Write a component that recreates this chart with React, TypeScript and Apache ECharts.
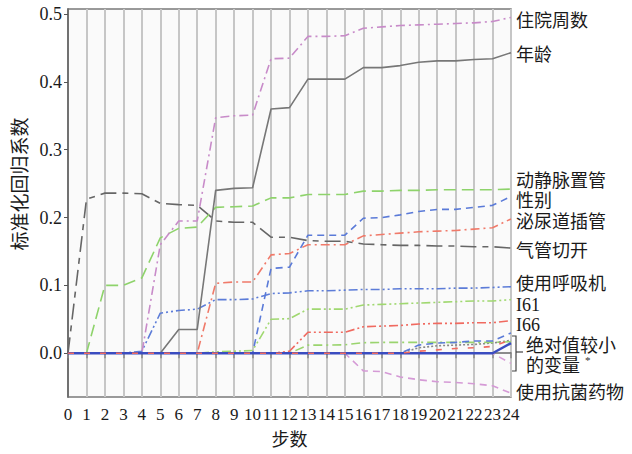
import React, { useEffect, useRef } from "react";
import * as echarts from "echarts";

// ---- data ----
const steps = [0, 1, 2, 3, 4, 5, 6, 7, 8, 9, 10, 11, 12, 13, 14, 15, 16, 17, 18, 19, 20, 21, 22, 23, 24];
const yTicks = [0, 0.1, 0.2, 0.3, 0.4, 0.5];

const hospWeeks = [0, 0, 0, 0, 0, 0.16, 0.195, 0.195, 0.347, 0.35, 0.351, 0.434, 0.435, 0.467, 0.467, 0.468, 0.479, 0.481, 0.483, 0.484, 0.485, 0.486, 0.487, 0.489, 0.495];
const age = [0, 0, 0, 0, 0, 0, 0.035, 0.035, 0.24, 0.243, 0.244, 0.36, 0.362, 0.404, 0.404, 0.404, 0.421, 0.421, 0.424, 0.429, 0.431, 0.431, 0.433, 0.434, 0.443];
const avCath = [0, 0, 0.1, 0.1, 0.111, 0.17, 0.184, 0.186, 0.215, 0.216, 0.217, 0.229, 0.229, 0.234, 0.234, 0.234, 0.239, 0.239, 0.24, 0.24, 0.241, 0.241, 0.241, 0.241, 0.242];
const trach = [0, 0.227, 0.236, 0.236, 0.235, 0.221, 0.219, 0.218, 0.195, 0.193, 0.193, 0.171, 0.171, 0.166, 0.165, 0.165, 0.161, 0.16, 0.159, 0.159, 0.158, 0.158, 0.157, 0.157, 0.155];
const sex = [0, 0, 0, 0, 0, 0, 0, 0, 0, 0, 0, 0.125, 0.127, 0.174, 0.174, 0.174, 0.199, 0.2, 0.204, 0.209, 0.212, 0.212, 0.215, 0.218, 0.231];
const urinCath = [0, 0, 0, 0, 0, 0, 0, 0, 0.103, 0.105, 0.105, 0.145, 0.147, 0.16, 0.16, 0.16, 0.173, 0.175, 0.177, 0.179, 0.18, 0.181, 0.183, 0.185, 0.198];
const ventilator = [0, 0, 0, 0, 0.003, 0.059, 0.063, 0.065, 0.079, 0.079, 0.08, 0.088, 0.089, 0.092, 0.092, 0.093, 0.094, 0.094, 0.095, 0.095, 0.095, 0.096, 0.096, 0.097, 0.098];
const i61 = [0, 0, 0, 0, 0, 0, 0, 0, 0.002, 0.003, 0.004, 0.05, 0.051, 0.065, 0.065, 0.065, 0.071, 0.072, 0.073, 0.074, 0.075, 0.076, 0.077, 0.077, 0.079];
const i66 = [0, 0, 0, 0, 0, 0, 0, 0, 0, 0, 0, 0, 0.003, 0.031, 0.031, 0.031, 0.039, 0.04, 0.041, 0.043, 0.044, 0.044, 0.045, 0.045, 0.048];
const antibiotics = [0, 0, 0, 0, 0, 0, 0, 0, 0, 0, 0, 0, 0, 0, 0, 0, -0.026, -0.027, -0.035, -0.039, -0.042, -0.043, -0.045, -0.048, -0.059];
const smallA = [0, 0, 0, 0, 0, 0, 0, 0, 0, 0, 0, 0, 0, 0.012, 0.012, 0.0125, 0.0155, 0.016, 0.016, 0.016, 0.016, 0.016, 0.016, 0.016, 0.017];
const smallB = [0, 0, 0, 0, 0, 0, 0, 0, 0, 0, 0, 0, 0, 0, 0, 0, 0, 0, 0, 0.012, 0.015, 0.016, 0.018, 0.018, 0.03];
const smallC = [0, 0, 0, 0, 0, 0, 0, 0, 0, 0, 0, 0, 0, 0, 0, 0, 0, 0, 0, 0.008, 0.011, 0.012, 0.013, 0.015, 0.019];
const smallD = [0, 0, 0, 0, 0, 0, 0, 0, 0, 0, 0, 0, 0, 0, 0, 0, 0, 0, 0, 0, 0, 0, 0, 0, 0.015];
const smallE = [0, 0, 0, 0, 0, 0, 0, 0, 0, 0, 0, 0, 0, 0, 0, 0, 0, 0, 0, 0.003, 0.005, 0.007, 0.008, 0.01, 0.02];
const smallF = [0, 0, 0, 0, 0, 0, 0, 0, 0, 0, 0, 0, 0, 0, 0, 0, 0, 0, 0, 0, 0, 0, 0, 0, -0.015];

const rightLabels = [
  "住院周数", "年龄", "动静脉置管", "性别", "泌尿道插管", "气管切开",
  "使用呼吸机", "I61", "I66", "绝对值较小", "的变量", "使用抗菌药物",
];

const SERIF = "'Liberation Serif', 'Noto Sans CJK SC', serif";
const CJK = "'Liberation Serif', 'Noto Sans CJK SC', sans-serif";

const dashDot = [9, 4, 2, 4];
const dashDotDot = [9, 3, 2, 3, 2, 3];
const longDash = [12, 6];
const dash = [7, 5];
const trachDash = [16, 6, 6, 6];

function mk(name: string, vals: number[], color: string, type: any, width = 1.6) {
  return {
    name,
    type: "line",
    data: steps.map((s, i) => [s, vals[i]]),
    symbol: "none",
    silent: true,
    lineStyle: { color, width, type },
  };
}

export default function App() {
  const ref = useRef<HTMLDivElement>(null);
  useEffect(() => {
    const chart = echarts.init(ref.current!, null, { renderer: "svg" });
    const labelY = [20.5, 55, 181, 201, 222, 250.5, 283.5, 305, 325, 345.5, 365.5, 392.5];
    const labelX = [516, 516, 516, 516, 516, 516, 516, 516, 516, 526, 526, 516];
    const graphic: any[] = rightLabels.map((t, i) => ({
      type: "text",
      x: labelX[i],
      y: labelY[i],
      silent: true,
      style: {
        text: t,
        font: `18px ${CJK}`,
        fill: "#1a1a1a",
        verticalAlign: "middle",
        align: "left",
      },
    }));
    graphic.push({
      type: "text",
      x: 585,
      y: 360,
      style: { text: "*", font: `11px ${SERIF}`, fill: "#333", verticalAlign: "middle" },
    });
    graphic.push({
      type: "polyline",
      shape: { points: [[511, 336], [516, 336], [516, 371], [511, 371]] },
      style: { stroke: "#444", lineWidth: 1.2, fill: "none" },
    });
    graphic.push({
      type: "line",
      shape: { x1: 516, y1: 352, x2: 523, y2: 352 },
      style: { stroke: "#444", lineWidth: 1.2 },
    });
    graphic.push({
      type: "text",
      x: 20,
      y: 184,
      rotation: Math.PI / 2,
      style: {
        text: "标准化回归系数",
        font: `19px ${CJK}`,
        fill: "#1a1a1a",
        align: "center",
        verticalAlign: "middle",
      },
    });

    const option: any = {
      animation: false,
      backgroundColor: "#ffffff",
      grid: {
        left: 68,
        right: 121,
        top: 9,
        bottom: 57,
        show: true,
        backgroundColor: "#fafafa",
        borderColor: "#7a7a7a",
        borderWidth: 1.5,
      },
      xAxis: {
        type: "value",
        min: 0,
        max: 24,
        interval: 1,
        name: "步数",
        nameLocation: "middle",
        nameGap: 34,
        nameTextStyle: { fontFamily: CJK, fontSize: 18, color: "#1a1a1a" },
        axisLine: { show: true, lineStyle: { color: "#666", width: 1.5 } },
        axisTick: { show: true, length: 5, lineStyle: { color: "#888", width: 1.5 } },
        axisLabel: { fontFamily: SERIF, fontSize: 17, color: "#1a1a1a", margin: 9 },
        splitLine: { show: true, lineStyle: { color: "#c6c6c6", width: 2 } },
      },
      yAxis: {
        type: "value",
        min: -0.0645,
        max: 0.5074,
        axisLine: { show: true, onZero: false, lineStyle: { color: "#555", width: 1.5 } },
        axisTick: { show: true, length: 4, customValues: yTicks, lineStyle: { color: "#555" } },
        axisLabel: {
          customValues: yTicks,
          fontFamily: SERIF,
          fontSize: 18,
          color: "#1a1a1a",
          margin: 6,
          formatter: (v: number) => v.toFixed(1),
        },
        splitLine: { show: false },
      },
      graphic,
      series: [
        mk("smallF", smallF, "#d9a0d9", dash),
        mk("smallC", smallC, "#888888", [2, 2]),
        mk("smallA", smallA, "#9ad46e", dashDot),
        mk("smallB", smallB, "#5a7ad8", dash),
        mk("使用抗菌药物", antibiotics, "#d59ad6", dash),
        mk("I66", i66, "#f06a60", dashDotDot),
        mk("I61", i61, "#a0d870", dashDotDot),
        mk("使用呼吸机", ventilator, "#5c7cd8", dashDotDot),
        mk("泌尿道插管", urinCath, "#f07a6a", dashDot),
        mk("性别", sex, "#5a7ad8", dash),
        mk("气管切开", trach, "#666666", trachDash),
        mk("动静脉置管", avCath, "#8ed36b", longDash),
        mk("年龄", age, "#777777", "solid"),
        mk("住院周数", hospWeeks, "#c88bc9", dashDot),
        mk("smallD", smallD, "#3a4cc0", "solid", 2.5),
        mk("smallE", smallE, "#f06a60", [6, 10], 1.6),
      ],
    };
    chart.setOption(option);
    return () => chart.dispose();
  }, []);
  return (
    <div
      ref={ref}
      style={{ position: "fixed", left: 0, top: 0, width: 632, height: 454 }}
    />
  );
}
